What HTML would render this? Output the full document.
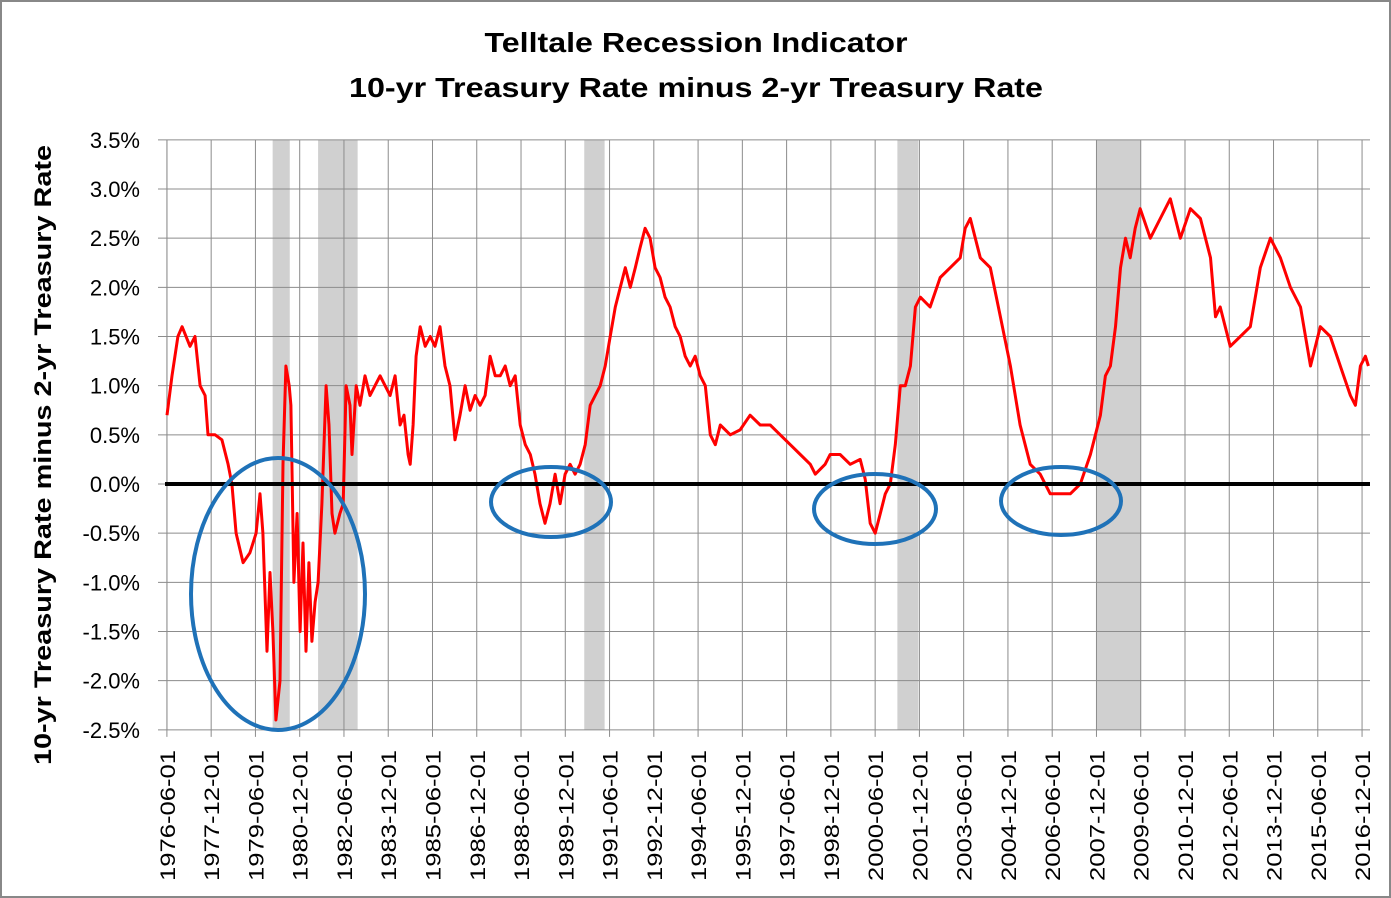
<!DOCTYPE html>
<html><head><meta charset="utf-8"><style>
html,body{margin:0;padding:0;background:#fff}
svg{display:block}
text{font-family:"Liberation Sans",sans-serif}
</style></head><body>
<svg id="chart" width="1391" height="898" viewBox="0 0 1391 898">
<rect x="1" y="1" width="1389" height="896" fill="#fff" stroke="#888" stroke-width="2"/>
<text x="696" y="52" text-anchor="middle" font-size="28" font-weight="bold" textLength="423" lengthAdjust="spacingAndGlyphs">Telltale Recession Indicator</text>
<text x="696" y="97" text-anchor="middle" font-size="28" font-weight="bold" textLength="694" lengthAdjust="spacingAndGlyphs">10-yr Treasury Rate minus 2-yr Treasury Rate</text>
<text transform="translate(51,455) rotate(-90)" text-anchor="middle" font-size="24" font-weight="bold" textLength="620" lengthAdjust="spacingAndGlyphs">10-yr Treasury Rate minus 2-yr Treasury Rate</text>
<g id="bands"></g><g id="grid"></g><g id="series"></g><g id="zero"></g><g id="ellipses"></g><g id="labels"></g>
</svg>
<script>
const dates=[1976.42,1976.59,1976.79,1976.93,1977.2,1977.37,1977.54,1977.71,1977.81,1978.05,1978.28,1978.49,1978.62,1978.76,1979.0,1979.23,1979.44,1979.57,1979.67,1979.81,1979.91,1980.01,1980.11,1980.25,1980.35,1980.45,1980.56,1980.62,1980.72,1980.83,1980.93,1981.03,1981.13,1981.23,1981.33,1981.44,1981.54,1981.67,1981.81,1981.91,1982.01,1982.11,1982.28,1982.39,1982.49,1982.62,1982.69,1982.83,1982.96,1983.13,1983.3,1983.47,1983.64,1983.81,1983.98,1984.15,1984.32,1984.45,1984.59,1984.66,1984.76,1984.86,1985.0,1985.17,1985.34,1985.5,1985.67,1985.84,1986.01,1986.18,1986.35,1986.52,1986.69,1986.86,1987.03,1987.2,1987.37,1987.54,1987.71,1987.88,1988.05,1988.22,1988.39,1988.56,1988.73,1988.89,1989.06,1989.23,1989.4,1989.57,1989.74,1989.91,1990.08,1990.25,1990.42,1990.59,1990.76,1990.93,1991.1,1991.27,1991.44,1991.61,1991.78,1991.95,1992.12,1992.29,1992.45,1992.62,1992.79,1992.96,1993.13,1993.3,1993.47,1993.64,1993.81,1993.98,1994.15,1994.32,1994.49,1994.66,1994.83,1995.0,1995.17,1995.51,1995.84,1996.18,1996.52,1996.86,1997.2,1997.54,1997.88,1998.22,1998.39,1998.72,1998.89,1999.23,1999.57,1999.91,2000.08,2000.25,2000.42,2000.59,2000.76,2000.93,2001.1,2001.27,2001.44,2001.61,2001.78,2001.95,2002.28,2002.62,2002.96,2003.3,2003.47,2003.64,2003.98,2004.32,2004.66,2005.0,2005.33,2005.67,2006.01,2006.35,2006.69,2007.03,2007.37,2007.71,2008.05,2008.22,2008.39,2008.56,2008.73,2008.9,2009.06,2009.23,2009.4,2009.74,2010.08,2010.42,2010.76,2011.1,2011.44,2011.78,2011.95,2012.11,2012.45,2012.79,2013.13,2013.47,2013.81,2014.15,2014.49,2014.83,2015.17,2015.5,2015.84,2016.18,2016.52,2016.69,2016.86,2017.03,2017.13];
const spread=[0.7,1.1,1.5,1.6,1.4,1.5,1.0,0.9,0.5,0.5,0.45,0.2,0.0,-0.5,-0.8,-0.7,-0.5,-0.1,-0.5,-1.7,-0.9,-1.5,-2.4,-2.0,0.2,1.2,1.0,0.8,-1.0,-0.3,-1.5,-0.6,-1.7,-0.8,-1.6,-1.2,-1.0,-0.2,1.0,0.6,-0.3,-0.5,-0.3,-0.2,1.0,0.8,0.3,1.0,0.8,1.1,0.9,1.0,1.1,1.0,0.9,1.1,0.6,0.7,0.3,0.2,0.6,1.3,1.6,1.4,1.5,1.4,1.6,1.2,1.0,0.45,0.7,1.0,0.75,0.9,0.8,0.9,1.3,1.1,1.1,1.2,1.0,1.1,0.6,0.4,0.3,0.1,-0.2,-0.4,-0.2,0.1,-0.2,0.1,0.2,0.1,0.2,0.4,0.8,0.9,1.0,1.2,1.5,1.8,2.0,2.2,2.0,2.2,2.4,2.6,2.5,2.2,2.1,1.9,1.8,1.6,1.5,1.3,1.2,1.3,1.1,1.0,0.5,0.4,0.6,0.5,0.55,0.7,0.6,0.6,0.5,0.4,0.3,0.2,0.1,0.2,0.3,0.3,0.2,0.25,0.05,-0.4,-0.5,-0.3,-0.1,0.0,0.4,1.0,1.0,1.2,1.8,1.9,1.8,2.1,2.2,2.3,2.6,2.7,2.3,2.2,1.7,1.2,0.6,0.2,0.1,-0.1,-0.1,-0.1,0.0,0.3,0.7,1.1,1.2,1.6,2.2,2.5,2.3,2.6,2.8,2.5,2.7,2.9,2.5,2.8,2.7,2.3,1.7,1.8,1.4,1.5,1.6,2.2,2.5,2.3,2.0,1.8,1.2,1.6,1.5,1.2,0.9,0.8,1.2,1.3,1.2];
const yTicks=[3.5,3.0,2.5,2.0,1.5,1.0,0.5,0.0,-0.5,-1.0,-1.5,-2.0,-2.5];
const xTickLabels=["1976-06-01","1977-12-01","1979-06-01","1980-12-01","1982-06-01","1983-12-01","1985-06-01","1986-12-01","1988-06-01","1989-12-01","1991-06-01","1992-12-01","1994-06-01","1995-12-01","1997-06-01","1998-12-01","2000-06-01","2001-12-01","2003-06-01","2004-12-01","2006-06-01","2007-12-01","2009-06-01","2010-12-01","2012-06-01","2013-12-01","2015-06-01","2016-12-01"];
const recessionStarts=[1980.0,1981.54,1990.56,2001.17,2007.92];
const recessionEnds=[1980.58,1982.88,1991.25,2001.88,2009.42];

const NS="http://www.w3.org/2000/svg";
const X0=167,T0=1976.42,PXY=29.51,Y0=484,PXV=98.33;
function xs(t){return X0+(t-T0)*PXY;}
function ys(v){return Y0-v*PXV;}
function lblDate(s){const p=s.split("-");return +p[0]+(+p[1]-1)/12;}
function mk(tag,attrs,parent){const e=document.createElementNS(NS,tag);for(const k in attrs)e.setAttribute(k,attrs[k]);document.getElementById(parent).appendChild(e);return e;}
const yTop=ys(3.5),yBot=ys(-2.5);
for(let i=0;i<recessionStarts.length;i++){
  const r=mk("rect",{x:xs(recessionStarts[i]),y:yTop,width:xs(recessionEnds[i])-xs(recessionStarts[i]),height:yBot-yTop,fill:"#d0d0d0"},"bands");
  
  
}
yTicks.forEach(v=>{
  const l=mk("line",{x1:158,x2:1370,y1:ys(v),y2:ys(v),stroke:"#8c8c8c","stroke-width":1},"grid");
  
  
  const t=mk("text",{x:140,y:ys(v)+8,"text-anchor":"end","font-size":22},"labels");
  t.textContent=v.toFixed(1)+"%";
  
  
});
xTickLabels.forEach(s=>{
  const x=xs(lblDate(s));
  const l=mk("line",{x1:x,x2:x,y1:yTop,y2:yBot+7,stroke:"#8c8c8c","stroke-width":1},"grid");
  
  
  const t=mk("text",{transform:`translate(${x+8},881) rotate(-90)`,"font-size":21,textLength:131,lengthAdjust:"spacingAndGlyphs"},"labels");
  t.textContent=s;
  
  
});
const ax=mk("line",{x1:167,x2:167,y1:yTop,y2:yBot,stroke:"#8c8c8c","stroke-width":1},"grid");


let d="";dates.forEach((t,i)=>{d+=(i?"L":"M")+xs(t).toFixed(1)+","+ys(spread[i]).toFixed(1);});
const p=mk("path",{d:d,fill:"none",stroke:"#ff0000","stroke-width":3,"stroke-linejoin":"round"},"series");


const z=mk("line",{x1:165,x2:1370,y1:ys(0),y2:ys(0),stroke:"#000","stroke-width":4},"zero");


[[278,594,87,136],[551,502,60,35],[875,509,61,35],[1061,501,60,34]].forEach(e=>{
  const el=mk("ellipse",{cx:e[0],cy:e[1],rx:e[2],ry:e[3],fill:"none",stroke:"#1f72b8","stroke-width":4},"ellipses");
  
  
});
</script>
</body></html>
